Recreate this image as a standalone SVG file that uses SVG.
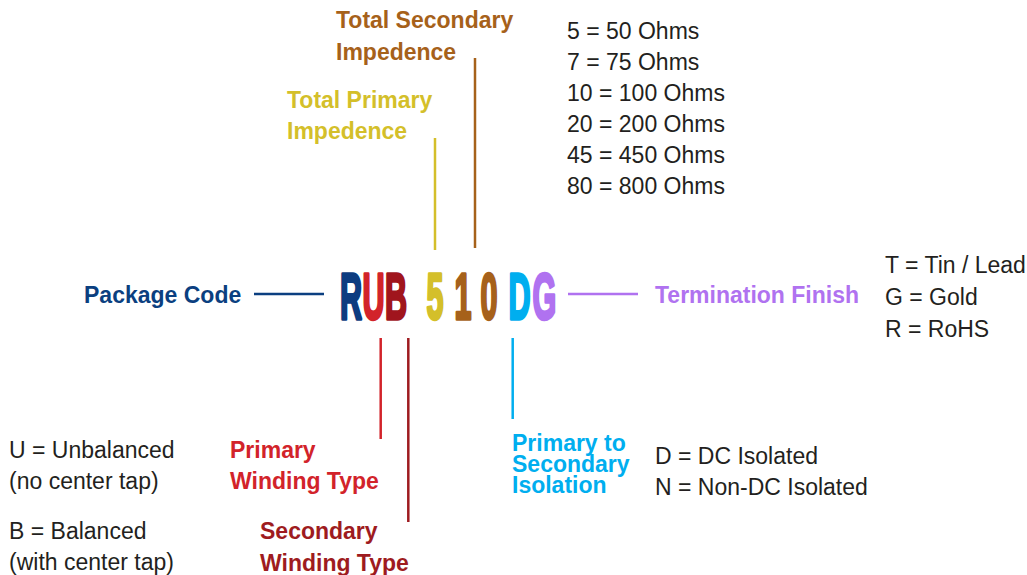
<svg xmlns="http://www.w3.org/2000/svg" width="1027" height="575" viewBox="0 0 1027 575">
<style>
.b{font-family:"Liberation Sans",Arial,sans-serif;font-weight:bold;font-size:23px}
.r{font-family:"Liberation Sans",Arial,sans-serif;font-size:23px;fill:#231f20}
.code{font-family:"Liberation Sans",Arial,sans-serif;font-weight:bold;font-size:65px;text-anchor:middle;stroke-width:3.4;stroke-linejoin:round}
.ln{stroke-width:2.5;fill:none}
</style>
<rect width="1027" height="575" fill="#ffffff"/>
<g id="code">
<text class="code" fill="#0d3c80" stroke="#0d3c80" transform="translate(351,319) scale(0.47,1)">R</text>
<text class="code" fill="#d2232a" stroke="#d2232a" transform="translate(373.5,319) scale(0.47,1)">U</text>
<text class="code" fill="#a0151d" stroke="#a0151d" transform="translate(396,319) scale(0.47,1)">B</text>
<text class="code" fill="#d4bf2a" stroke="#d4bf2a" transform="translate(435,319) scale(0.47,1)">5</text>
<text class="code" fill="#a6611a" stroke="#a6611a" transform="translate(463,319) scale(0.47,1)">1</text>
<text class="code" fill="#a6611a" stroke="#a6611a" transform="translate(489,319) scale(0.47,1)">0</text>
<text class="code" fill="#00aeef" stroke="#00aeef" transform="translate(519.5,319) scale(0.47,1)">D</text>
<text class="code" fill="#b072f0" stroke="#b072f0" transform="translate(544.5,319) scale(0.47,1)">G</text>
</g>
<g id="connectors">
<line class="ln" x1="254" y1="294" x2="324" y2="294" stroke="#0b3f80"/>
<line class="ln" x1="568" y1="294" x2="638" y2="294" stroke="#b072f0"/>
<line class="ln" x1="435" y1="138" x2="435" y2="250" stroke="#d4bf2a"/>
<line class="ln" x1="475" y1="58" x2="475" y2="248" stroke="#a6611a"/>
<line class="ln" x1="380.7" y1="338" x2="380.7" y2="439" stroke="#d2232a"/>
<line class="ln" x1="408.3" y1="338" x2="408.3" y2="522" stroke="#9e1b20"/>
<line class="ln" x1="512.7" y1="338" x2="512.7" y2="419" stroke="#00aeef"/>
</g>
<g id="total-secondary">
<text class="b" fill="#a6611a" x="336" y="28">Total Secondary</text>
<text class="b" fill="#a6611a" x="336" y="60">Impedence</text>
</g>
<g id="total-primary">
<text class="b" fill="#d4bf2a" x="287" y="108">Total Primary</text>
<text class="b" fill="#d4bf2a" x="287" y="139">Impedence</text>
</g>
<g id="impedance-values">
<text class="r" x="567" y="39">5 = 50 Ohms</text>
<text class="r" x="567" y="70">7 = 75 Ohms</text>
<text class="r" x="567" y="101">10 = 100 Ohms</text>
<text class="r" x="567" y="132">20 = 200 Ohms</text>
<text class="r" x="567" y="163">45 = 450 Ohms</text>
<text class="r" x="567" y="194">80 = 800 Ohms</text>
</g>
<g id="package-code">
<text class="b" fill="#0b3f80" x="84" y="303">Package Code</text>
</g>
<g id="termination-finish">
<text class="b" fill="#b072f0" x="655" y="303">Termination Finish</text>
</g>
<g id="termination-values">
<text class="r" x="885" y="273">T = Tin / Lead</text>
<text class="r" x="885" y="305">G = Gold</text>
<text class="r" x="885" y="337">R = RoHS</text>
</g>
<g id="primary-winding">
<text class="b" fill="#d2232a" x="230" y="458">Primary</text>
<text class="b" fill="#d2232a" x="230" y="489">Winding Type</text>
</g>
<g id="secondary-winding">
<text class="b" fill="#9e1b20" x="260" y="539">Secondary</text>
<text class="b" fill="#9e1b20" x="260" y="571">Winding Type</text>
</g>
<g id="winding-values">
<text class="r" x="9" y="458">U = Unbalanced</text>
<text class="r" x="9" y="489">(no center tap)</text>
<text class="r" x="9" y="539">B = Balanced</text>
<text class="r" x="9" y="570">(with center tap)</text>
</g>
<g id="isolation">
<text class="b" fill="#00aeef" x="512" y="451">Primary to</text>
<text class="b" fill="#00aeef" x="512" y="472">Secondary</text>
<text class="b" fill="#00aeef" x="512" y="493">Isolation</text>
</g>
<g id="isolation-values">
<text class="r" x="655" y="464">D = DC Isolated</text>
<text class="r" x="655" y="495">N = Non-DC Isolated</text>
</g>
</svg>
